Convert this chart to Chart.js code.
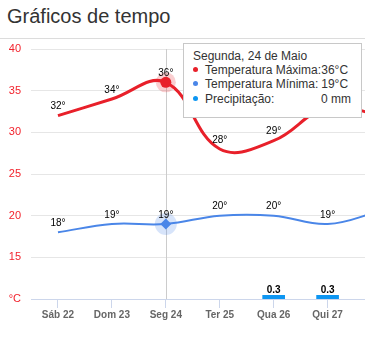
<!DOCTYPE html>
<html lang="pt">
<head>
<meta charset="utf-8">
<title>Gráficos de tempo</title>
<script src="https://cdn.jsdelivr.net/npm/chart.js@4.4.1/dist/chart.umd.min.js"></script>
<style>
  html, body { margin: 0; padding: 0; background: #fff; overflow: hidden; width: 365px; height: 337px; }
  body { position: relative; font-family: "Liberation Sans", Arial, sans-serif; }
  h2 { position: absolute; left: 7px; top: 1px; margin: 0; font-weight: normal; font-size: 20px; line-height: 30px; color: #333; white-space: nowrap; }
  .rule { position: absolute; left: 0; top: 38px; width: 365px; height: 1px; background: #dcdcdc; }
  #wrap { position: absolute; left: 0; top: 40px; width: 410px; height: 297px; }
  #tip { position: absolute; display: none; box-sizing: border-box; width: 179px; height: 75px;
         background: #fff; border: 1px solid #c8c8c8; padding: 5px 10px 0 9px;
         font: 12px/14.2px "Liberation Sans", Arial, sans-serif; color: #333; white-space: nowrap; }
  #tip table { border-collapse: collapse; }
  #tip td { padding: 0; line-height: 14.2px; }
  #tip td.v { text-align: right; }
  #tip td.v span.mm { margin-right: -3px; }
  #tip .dot { display: inline-block; width: 5px; height: 5px; border-radius: 50%; margin: 0 7px 0 0; vertical-align: 2px; }
</style>
</head>
<body>
<h2>Gráficos de tempo</h2>
<div class="rule"></div>
<div id="wrap"><canvas id="weather" width="410" height="297"></canvas></div>
<div id="tip"></div>
<script>
// Forecast days
const categories = ['Sáb 22', 'Dom 23', 'Seg 24', 'Ter 25', 'Qua 26', 'Qui 27', 'Sex 28'];
const fullDayNames = ['Sábado', 'Domingo', 'Segunda', 'Terça', 'Quarta', 'Quinta', 'Sexta'];
const dayNumbers = [22, 23, 24, 25, 26, 27, 28];
const monthName = 'Maio';

// Series (°C and mm)
const tempMax = [32, 34, 36, 28, 29, 33, 32];
const tempMin = [18, 19, 19, 20, 20, 19, 20.6];
const precip = [0, 0, 0, 0, 0.3, 0.3, 0];

// Temperature axis
const tempAxisMin = 10;
const tempAxisMax = 40;
const tempAxisStep = 5;
const tempAxisUnit = '°C';

// Day that is highlighted with the tooltip
const selectedDay = 2;

const RED = '#e8202a';
const BLUE = '#4a86e8';
const RAIN = '#0d96f2';
const HALO = ['rgba(232,32,42,0.22)', 'rgba(74,134,232,0.22)'];
const HALO_RADIUS = [10, 11];
const FONT = '"Liberation Sans", Arial, sans-serif';

Chart.defaults.font.family = FONT;

// Vertical crosshair at the hovered day
const crosshair = {
  id: 'crosshair',
  beforeDatasetsDraw(chart) {
    const act = chart.getActiveElements();
    if (!act.length) return;
    const x = Math.round(act[0].element.x) + 0.5;
    const { top, bottom } = chart.chartArea;
    const c = chart.ctx;
    c.save();
    c.strokeStyle = '#cccccc';
    c.lineWidth = 1;
    c.beginPath();
    c.moveTo(x, top);
    c.lineTo(x, bottom);
    c.stroke();
    c.restore();
  }
};

// Soft round halo behind the hovered line points
const halo = {
  id: 'halo',
  beforeDatasetsDraw(chart) {
    const c = chart.ctx;
    chart.getActiveElements().forEach(a => {
      if (a.datasetIndex > 1) return;
      c.save();
      c.fillStyle = HALO[a.datasetIndex];
      c.beginPath();
      c.arc(a.element.x, a.element.y, HALO_RADIUS[a.datasetIndex], 0, Math.PI * 2);
      c.fill();
      c.restore();
    });
  }
};

// Value labels above temperature points and rain bars
const valueLabels = {
  id: 'valueLabels',
  afterDatasetsDraw(chart) {
    const c = chart.ctx;
    c.save();
    c.fillStyle = '#000';
    c.textAlign = 'center';
    [0, 1].forEach(di => {
      const meta = chart.getDatasetMeta(di);
      const values = chart.data.datasets[di].data;
      c.font = '10px ' + FONT;
      c.textBaseline = 'middle';
      meta.data.forEach((pt, i) => {
        c.fillText(Math.round(values[i]) + '°', pt.x, pt.y - 9);
      });
    });
    const rainMeta = chart.getDatasetMeta(2);
    c.font = 'bold 10px ' + FONT;
    c.textBaseline = 'bottom';
    rainMeta.data.forEach((bar, i) => {
      if (precip[i] > 0) c.fillText(String(precip[i]), bar.x, bar.y);
    });
    c.restore();
  }
};

function renderTip(context) {
  const tip = context.tooltip;
  const box = document.getElementById('tip');
  if (tip.opacity === 0 || !tip.dataPoints || !tip.dataPoints.length) {
    box.style.display = 'none';
    return;
  }
  const i = tip.dataPoints[0].dataIndex;
  const units = ['°C', '°C', ' mm'];
  const dots = [RED, BLUE, RAIN];
  let html = '<div>' + fullDayNames[i] + ', ' + dayNumbers[i] + ' de ' + monthName + '</div><table>';
  tip.dataPoints.forEach(p => {
    const cls = p.datasetIndex === 2 ? 'mm' : 'deg';
    html += '<tr><td><span class="dot" style="background:' + dots[p.datasetIndex] + '"></span>' + p.dataset.label + ':</td>' +
            '<td class="v"><span class="' + cls + '">' + p.raw + units[p.datasetIndex] + '</span></td></tr>';
  });
  html += '</table>';
  box.innerHTML = html;
  const wrap = document.getElementById('wrap');
  box.style.display = 'block';
  box.style.left = (wrap.offsetLeft + tip.caretX + 17) + 'px';
  box.style.top = (wrap.offsetTop + context.chart.chartArea.top - 6) + 'px';
}

const rainColor = ctx => (ctx.raw > 0 ? RAIN : 'rgba(0,0,0,0)');

const chart = new Chart(document.getElementById('weather'), {
  data: {
    labels: categories,
    datasets: [
      {
        type: 'line', label: 'Temperatura Máxima', data: tempMax, yAxisID: 'y',
        borderColor: RED, backgroundColor: RED, borderWidth: 3, tension: 0.4,
        pointRadius: 0, pointHoverRadius: 5.5, pointHoverBorderWidth: 0,
        pointBackgroundColor: RED, pointHoverBackgroundColor: RED, order: 1
      },
      {
        type: 'line', label: 'Temperatura Mínima', data: tempMin, yAxisID: 'y',
        borderColor: BLUE, backgroundColor: BLUE, borderWidth: 2, tension: 0.4,
        pointStyle: 'rectRot', pointRadius: 0, pointHoverRadius: 5.5, pointHoverBorderWidth: 0,
        pointBackgroundColor: BLUE, pointHoverBackgroundColor: BLUE, order: 2
      },
      {
        type: 'bar', label: 'Precipitação', data: precip, yAxisID: 'yRain',
        backgroundColor: rainColor, hoverBackgroundColor: rainColor, borderWidth: 0,
        barThickness: 22, order: 3
      }
    ]
  },
  options: {
    responsive: false,
    animation: false,
    events: [],
    layout: { padding: { top: 9, right: 1, left: 0, bottom: 0 } },
    plugins: {
      legend: { display: false },
      tooltip: { enabled: false, mode: 'index', intersect: false, external: renderTip }
    },
    scales: {
      x: {
        offset: true,
        grid: { offset: false, drawOnChartArea: false, drawTicks: true, tickLength: 9, color: '#ccd6eb' },
        border: { color: '#ccd6eb', width: 1 },
        ticks: { color: '#666', font: { size: 10, weight: 'bold' }, padding: 1, maxRotation: 0, autoSkip: false },
        afterFit(s) { s.height = 38; }
      },
      y: {
        position: 'left',
        min: tempAxisMin, max: tempAxisMax,
        ticks: {
          stepSize: tempAxisStep, color: '#f2222c', font: { size: 11 }, padding: 10,
          callback: v => (v === tempAxisMin ? tempAxisUnit : v)
        },
        grid: { color: '#e6e6e6', drawTicks: false },
        border: { display: false },
        afterFit(s) { s.width = 31; s.paddingTop = 0; s.paddingBottom = 0; }
      },
      yRain: { display: false, min: 0, max: 20 }
    }
  },
  plugins: [crosshair, halo, valueLabels]
});

const activeDay = [0, 1, 2].map(d => ({ datasetIndex: d, index: selectedDay }));
const anchor = chart.getDatasetMeta(0).data[selectedDay];
chart.setActiveElements(activeDay);
chart.tooltip.setActiveElements(activeDay, { x: anchor.x, y: anchor.y });
chart.update();
</script>
</body>
</html>
